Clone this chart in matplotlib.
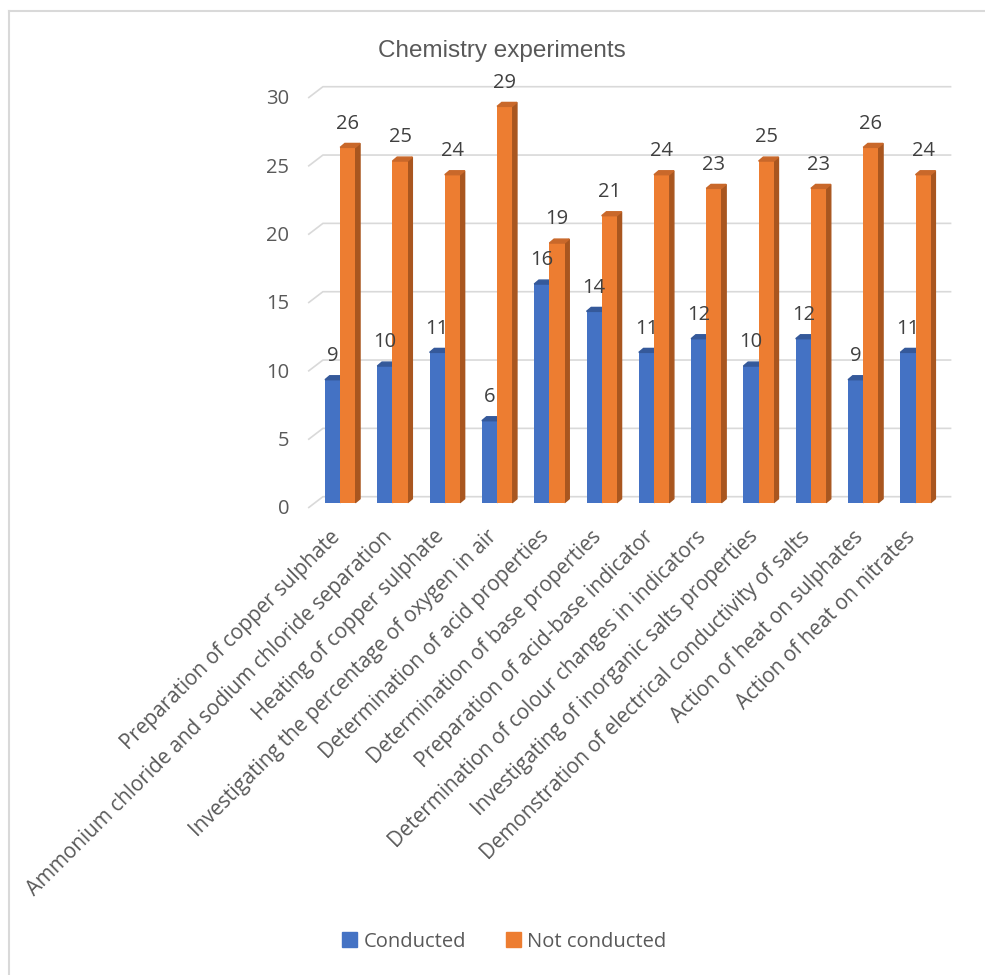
import numpy as np
import matplotlib
matplotlib.use("Agg")
from matplotlib import pyplot as plt
from matplotlib import transforms
from matplotlib.patches import Polygon, Patch
from matplotlib.lines import Line2D

experiments = [
    "Preparation of copper sulphate",
    "Ammonium chloride and sodium chloride separation",
    "Heating of copper sulphate",
    "Investigating the percentage of oxygen in air",
    "Determination of acid properties",
    "Determination of base properties",
    "Preparation of acid-base indicator",
    "Determination of colour changes in indicators",
    "Investigating of inorganic salts properties",
    "Demonstration of electrical conductivity of salts",
    "Action of heat on sulphates",
    "Action of heat on nitrates",
]
conducted = [9, 10, 11, 6, 16, 14, 11, 12, 10, 12, 9, 11]
not_conducted = [26, 25, 24, 29, 19, 21, 24, 23, 25, 23, 26, 24]
y_ticks = [0, 5, 10, 15, 20, 25, 30]

blue = "#4472C4"
orange = "#ED7D31"
text_col = "#595959"

fig = plt.figure(figsize=(9.85, 9.75), dpi=100)
ax = fig.add_axes([0.3188, 0.4844, 0.6372, 0.4205])

x = np.arange(len(experiments))
w = 0.29
dx, dy = 0.09, 0.29  # depth of the 3d faces, data units

# back wall gridlines with a short floor stub on the left
for v in y_ticks:
    ax.add_line(Line2D([-0.6, -0.33, 11.67], [v - 0.35, v + 0.44, v + 0.44],
                       color="#D9D9D9", lw=1.2, clip_on=False, zorder=0))


def bars3d(xs, heights, front, side, top):
    ax.bar(xs, heights, width=w, color=front, zorder=2)
    for xi, h in zip(xs, heights):
        r = xi + w / 2
        l = xi - w / 2
        ax.add_patch(Polygon([(r, 0), (r + dx, dy), (r + dx, h + dy), (r, h)],
                             closed=True, color=side, zorder=1, clip_on=False))
        ax.add_patch(Polygon([(l, h), (r, h), (r + dx, h + dy), (l + dx, h + dy)],
                             closed=True, color=top, zorder=2, clip_on=False))
        ax.annotate(str(h), (xi, h), xytext=(0, 17), textcoords="offset points",
                    ha="center", va="center", fontsize=14.5, color="#404040",
                    family="Open Sans", annotation_clip=False)


bars3d(x - w / 2, conducted, blue, "#2F528F", "#35599A")
bars3d(x + w / 2, not_conducted, orange, "#A9561F", "#C9682A")

ax.set_xlim(-0.5, 11.5)
ax.set_ylim(0, 30)
ax.set_yticks(y_ticks)
ax.set_yticklabels([str(v) for v in y_ticks], fontsize=14.5, color=text_col,
                   family="Open Sans")
ax.tick_params(axis="y", length=0, pad=18)
shift = transforms.ScaledTranslation(0, -3 / 72, fig.dpi_scale_trans)
for lab in ax.get_yticklabels():
    lab.set_transform(lab.get_transform() + shift)
ax.set_xticks(x)
ax.set_xticklabels(experiments, rotation=45, ha="right", va="top",
                   rotation_mode="anchor", fontsize=14.9, color=text_col,
                   family="Open Sans")
ax.tick_params(axis="x", length=0, pad=17)
xshift = transforms.ScaledTranslation(-8 / 72, 0, fig.dpi_scale_trans)
for lab in ax.get_xticklabels():
    lab.set_transform(lab.get_transform() + xshift)
for s in ax.spines.values():
    s.set_visible(False)
ax.patch.set_alpha(0)

fig.text(0.51, 0.948, "Chemistry experiments", ha="center", va="center",
         fontsize=17.5, color=text_col, family="Liberation Sans")

handles = [Patch(color=blue, label="Conducted"),
           Patch(color=orange, label="Not conducted")]
fig.legend(handles=handles, loc="center", bbox_to_anchor=(0.512, 0.034), ncol=2,
           frameon=False, prop={"family": "Open Sans", "size": 14.5},
           labelcolor=text_col, handlelength=0.75, handleheight=0.75,
           handletextpad=0.3, columnspacing=2.0)

# chart border (only top and left are inside the picture)
fig.add_artist(Line2D([0.009, 0.009], [0, 0.989], color="#D9D9D9", lw=1.5,
                      transform=fig.transFigure))
fig.add_artist(Line2D([0.009, 1.0], [0.989, 0.989], color="#D9D9D9", lw=1.5,
                      transform=fig.transFigure))

fig.savefig("out.png", dpi=100)
